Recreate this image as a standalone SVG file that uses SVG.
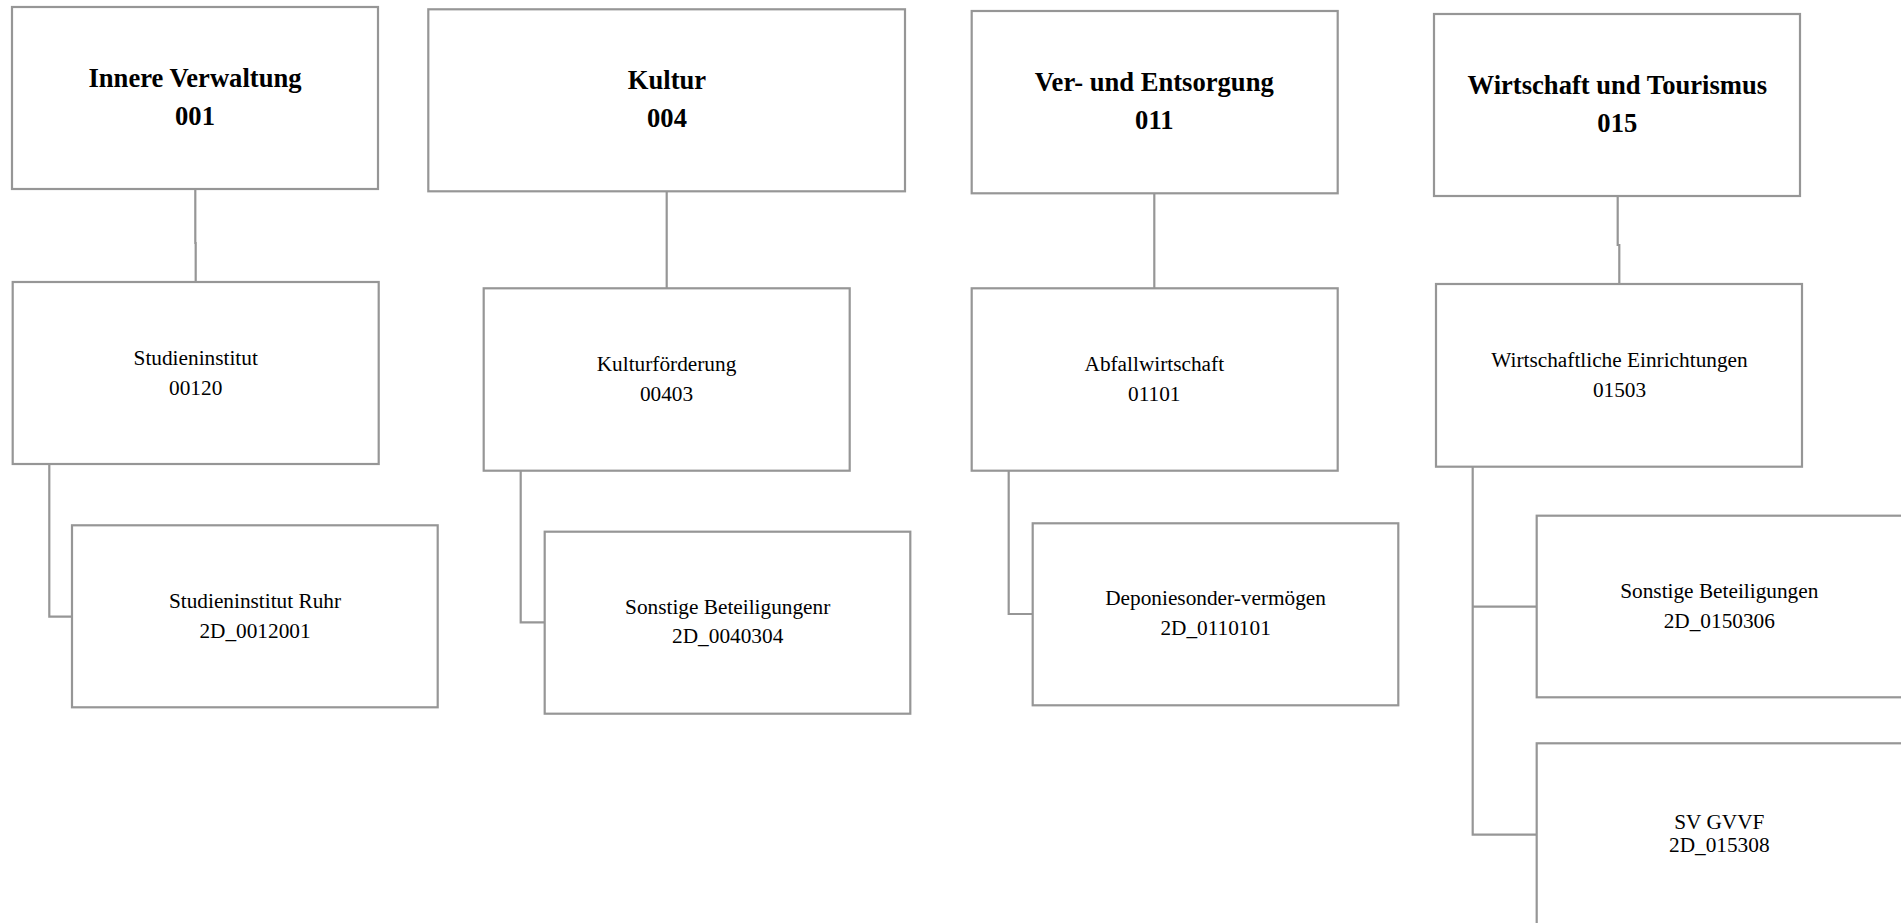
<svg xmlns="http://www.w3.org/2000/svg" width="1901" height="923" viewBox="0 0 1901 923">
<style>
.box{fill:#ffffff;stroke:#969696;stroke-width:2.2}
.con{fill:none;stroke:#969696;stroke-width:2.2}
.h{font-family:"Liberation Serif","Times New Roman",serif;font-weight:bold;font-size:26.6px;fill:#000;text-anchor:middle}
.t{font-family:"Liberation Serif","Times New Roman",serif;font-size:21.3px;fill:#000;text-anchor:middle}
</style>
<rect width="1901" height="923" fill="#ffffff"/>
<g id="connectors">
<path class="con" d="M195.3,189 V243 H195.7 V282"/>
<path class="con" d="M49.3,464 V616.7 H72"/>
<path class="con" d="M666.7,191.3 V288.3"/>
<path class="con" d="M520.7,470.7 V622.3 H544.7"/>
<path class="con" d="M1154.3,193.3 V288.3"/>
<path class="con" d="M1008.7,470.7 V614 H1032.7"/>
<path class="con" d="M1617.7,196 V245 H1619.3 V284"/>
<path class="con" d="M1472.7,466.7 V834.7 H1536.7"/>
<path class="con" d="M1472.7,606.7 H1536.7"/>
</g>
<g id="n001">
<rect class="box" x="12" y="7" width="366" height="182"/>
<text class="h" x="195" y="87">Innere Verwaltung</text>
<text class="h" x="195" y="125">001</text>
</g>
<g id="n00120">
<rect class="box" x="12.7" y="282" width="366" height="182"/>
<text class="t" x="195.7" y="365">Studieninstitut</text>
<text class="t" x="195.7" y="395">00120</text>
</g>
<g id="n2D_0012001">
<rect class="box" x="72" y="525.3" width="365.7" height="182"/>
<text class="t" x="255" y="608.3">Studieninstitut Ruhr</text>
<text class="t" x="255" y="637.7">2D_0012001</text>
</g>
<g id="n004">
<rect class="box" x="428.3" y="9.3" width="476.7" height="182"/>
<text class="h" x="667" y="89.3">Kultur</text>
<text class="h" x="667" y="127.3">004</text>
</g>
<g id="n00403">
<rect class="box" x="483.7" y="288.3" width="366" height="182.4"/>
<text class="t" x="666.5" y="371">Kulturförderung</text>
<text class="t" x="666.5" y="401">00403</text>
</g>
<g id="n2D_0040304">
<rect class="box" x="544.7" y="531.7" width="365.6" height="182"/>
<text class="t" x="727.7" y="614">Sonstige Beteiligungenr</text>
<text class="t" x="727.7" y="643.3">2D_0040304</text>
</g>
<g id="n011">
<rect class="box" x="971.7" y="11" width="366" height="182.3"/>
<text class="h" x="1154.3" y="90.7">Ver- und Entsorgung</text>
<text class="h" x="1154.3" y="128.7">011</text>
</g>
<g id="n01101">
<rect class="box" x="971.7" y="288.3" width="366" height="182.4"/>
<text class="t" x="1154.3" y="370.7">Abfallwirtschaft</text>
<text class="t" x="1154.3" y="400.7">01101</text>
</g>
<g id="n2D_0110101">
<rect class="box" x="1032.7" y="523.3" width="365.6" height="182"/>
<text class="t" x="1215.6" y="605">Deponiesonder-vermögen</text>
<text class="t" x="1215.6" y="635">2D_0110101</text>
</g>
<g id="n015">
<rect class="box" x="1434" y="14" width="366" height="182"/>
<text class="h" x="1617.3" y="94">Wirtschaft und Tourismus</text>
<text class="h" x="1617.3" y="132">015</text>
</g>
<g id="n01503">
<rect class="box" x="1436" y="284" width="366" height="182.7"/>
<text class="t" x="1619.5" y="366.7">Wirtschaftliche Einrichtungen</text>
<text class="t" x="1619.5" y="396.7">01503</text>
</g>
<g id="n2D_0150306">
<rect class="box" x="1536.7" y="515.7" width="366" height="181.6"/>
<text class="t" x="1719.3" y="598.3">Sonstige Beteiligungen</text>
<text class="t" x="1719.3" y="627.7">2D_0150306</text>
</g>
<g id="n2D_015308">
<rect class="box" x="1536.7" y="743.3" width="366" height="182"/>
<text class="t" x="1719.3" y="829.3">SV GVVF</text>
<text class="t" x="1719.3" y="851.7">2D_015308</text>
</g>
</svg>
